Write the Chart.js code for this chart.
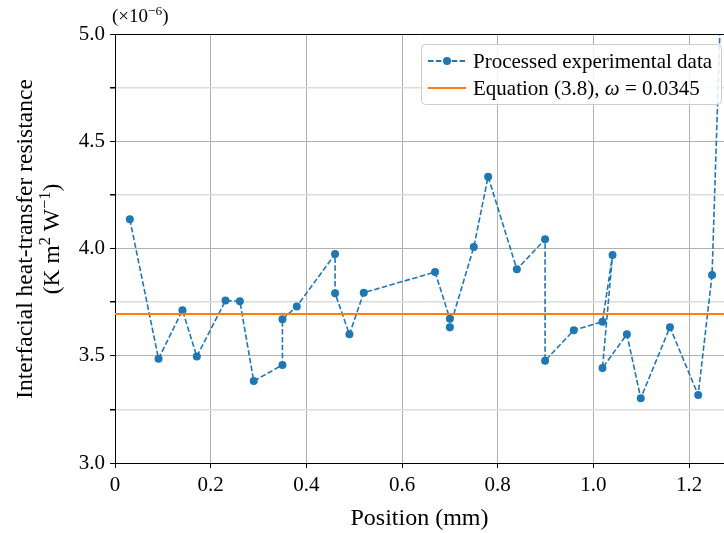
<!DOCTYPE html>
<html>
<head>
<meta charset="utf-8">
<script src="https://cdn.jsdelivr.net/npm/chart.js@4.4.0/dist/chart.umd.min.js"></script>
<style>
  html, body { margin: 0; padding: 0; background: #fff; }
  #wrap { width: 724px; height: 533px; position: relative; }
</style>
</head>
<body>
<div id="wrap"><canvas id="chart"></canvas></div>
<script>
// values (y in units of 1e-6 K m^2 W^-1)
const positions = [0.031, 0.091, 0.141, 0.171, 0.231, 0.261, 0.290, 0.350, 0.350, 0.380,
                   0.460, 0.460, 0.490, 0.520, 0.669, 0.700, 0.700, 0.750, 0.780, 0.840,
                   0.899, 0.899, 0.959, 1.019, 1.040, 1.019, 1.070, 1.099, 1.160, 1.219,
                   1.248, 1.270];
const resistance = [4.136, 3.486, 3.712, 3.497, 3.757, 3.754, 3.382, 3.457, 3.670, 3.730,
                    3.974, 3.791, 3.600, 3.794, 3.890, 3.673, 3.633, 4.007, 4.335, 3.903,
                    4.043, 3.477, 3.619, 3.659, 3.970, 3.443, 3.600, 3.302, 3.633, 3.317,
                    3.876, 5.400];
const equationValue = 3.695;
const xRange = [0, 1.273];
const yRange = [3.0, 5.0];

const seriesLabels = ['Processed experimental data', 'Equation (3.8), ω = 0.0345'];
const blue = '#1f77b4';
const orange = '#ff7f0e';
const serif = '"Liberation Serif", "DejaVu Serif", serif';

// draw text made of pieces, some raised as superscripts or set in italics
function drawRich(ctx, parts, x, y, size, align) {
    const fontFor = p => (p.italic ? 'italic ' : '') + (p.sup ? size * 0.7 : size) + 'px ' + serif;
    let total = 0;
    parts.forEach(p => { ctx.font = fontFor(p); total += ctx.measureText(p.t).width; });
    let cx = align === 'center' ? x - total / 2 : x;
    ctx.textAlign = 'left';
    ctx.textBaseline = 'alphabetic';
    parts.forEach(p => {
        ctx.font = fontFor(p);
        ctx.fillText(p.t, cx, p.sup ? y - size * 0.38 : y);
        cx += ctx.measureText(p.t).width;
    });
}

const decorations = {
    id: 'decorations',
    afterDraw(chart) {
        const ctx = chart.ctx;
        const a = chart.chartArea;
        ctx.save();

        // top spine (the right one falls just outside the picture)
        ctx.strokeStyle = '#000';
        ctx.lineWidth = 1;
        ctx.beginPath();
        ctx.moveTo(a.left, a.top + 0.5);
        ctx.lineTo(a.right, a.top + 0.5);
        ctx.stroke();

        ctx.fillStyle = '#000';
        // offset text above the y axis
        drawRich(ctx, [{ t: '(×10' }, { t: '−6', sup: true }, { t: ')' }], a.left - 3, 22, 19, 'left');

        // x axis title
        drawRich(ctx, [{ t: 'Position (mm)' }], (a.left + a.right) / 2, 525, 24, 'center');

        // y axis title, two lines rotated
        ctx.save();
        ctx.translate(0, 239);
        ctx.rotate(-Math.PI / 2);
        drawRich(ctx, [{ t: 'Interfacial heat-transfer resistance' }], 0, 32, 23.5, 'center');
        drawRich(ctx, [{ t: '(K m' }, { t: '2', sup: true }, { t: ' W' }, { t: '−1', sup: true }, { t: ')' }], 0, 59, 23.5, 'center');
        ctx.restore();

        // legend box
        const bx = 421.5, by = 44.5, bw = 300, bh = 60;
        ctx.beginPath();
        ctx.roundRect(bx, by, bw, bh, 4);
        ctx.fillStyle = 'rgba(255,255,255,0.85)';
        ctx.fill();
        ctx.strokeStyle = '#cccccc';
        ctx.stroke();

        const rows = [61, 88];
        ctx.lineWidth = 2;
        ctx.strokeStyle = blue;
        ctx.setLineDash([5.5, 2.4]);
        ctx.beginPath();
        ctx.moveTo(428, rows[0]);
        ctx.lineTo(466, rows[0]);
        ctx.stroke();
        ctx.setLineDash([]);
        ctx.fillStyle = blue;
        ctx.beginPath();
        ctx.arc(447, rows[0], 4, 0, Math.PI * 2);
        ctx.fill();

        ctx.strokeStyle = orange;
        ctx.beginPath();
        ctx.moveTo(428, rows[1]);
        ctx.lineTo(466, rows[1]);
        ctx.stroke();

        ctx.fillStyle = '#000';
        drawRich(ctx, [{ t: seriesLabels[0] }], 473, rows[0] + 7, 21, 'left');
        drawRich(ctx, [{ t: 'Equation (3.8), ' }, { t: 'ω', italic: true }, { t: ' = 0.0345' }], 473, rows[1] + 7, 21, 'left');

        ctx.restore();
    }
};

const isMajorY = v => Math.abs(v * 2 - Math.round(v * 2)) < 1e-6;

new Chart(document.getElementById('chart'), {
    type: 'scatter',
    data: {
        datasets: [{
            label: seriesLabels[0],
            data: positions.map((x, i) => ({ x: x, y: resistance[i] })),
            showLine: true,
            borderColor: blue,
            backgroundColor: blue,
            borderWidth: 1.6,
            borderDash: [5.5, 2.4],
            pointRadius: 4,
            pointHoverRadius: 4,
            pointBorderWidth: 0,
            order: 1
        }, {
            label: seriesLabels[1],
            data: xRange.map(x => ({ x: x, y: equationValue })),
            showLine: true,
            borderColor: orange,
            backgroundColor: orange,
            borderWidth: 2,
            pointRadius: 0,
            order: 0
        }]
    },
    options: {
        responsive: true,
        maintainAspectRatio: false,
        animation: false,
        layout: { autoPadding: false, padding: { top: 34, right: 0, left: 0, bottom: 0 } },
        plugins: { legend: { display: false }, tooltip: { enabled: false } },
        scales: {
            x: {
                type: 'linear',
                min: xRange[0],
                max: xRange[1],
                afterFit: s => { s.height = 70; s.paddingLeft = 0; s.paddingRight = 0; },
                border: { color: '#000', width: 1 },
                grid: { color: '#b0b0b0', lineWidth: 1, tickColor: '#000', tickLength: 5 },
                ticks: {
                    stepSize: 0.2,
                    includeBounds: false,
                    maxRotation: 0,
                    padding: 5,
                    color: '#000',
                    font: { family: serif, size: 21 },
                    callback: v => (v === 0 ? '0' : v.toFixed(1))
                }
            },
            y: {
                min: yRange[0],
                max: yRange[1],
                afterFit: s => { s.width = 115; s.paddingTop = 0; s.paddingBottom = 0; },
                border: { color: '#000', width: 1 },
                grid: {
                    color: c => (isMajorY(c.tick.value) ? '#b0b0b0' : '#dcdcdc'),
                    lineWidth: c => (isMajorY(c.tick.value) ? 1 : 1.5),
                    tickColor: '#000',
                    tickLength: 5
                },
                ticks: {
                    stepSize: 0.25,
                    padding: 5,
                    color: '#000',
                    font: { family: serif, size: 21 },
                    callback: v => (isMajorY(v) ? v.toFixed(1) : '')
                }
            }
        }
    },
    plugins: [decorations]
});
</script>
</body>
</html>
